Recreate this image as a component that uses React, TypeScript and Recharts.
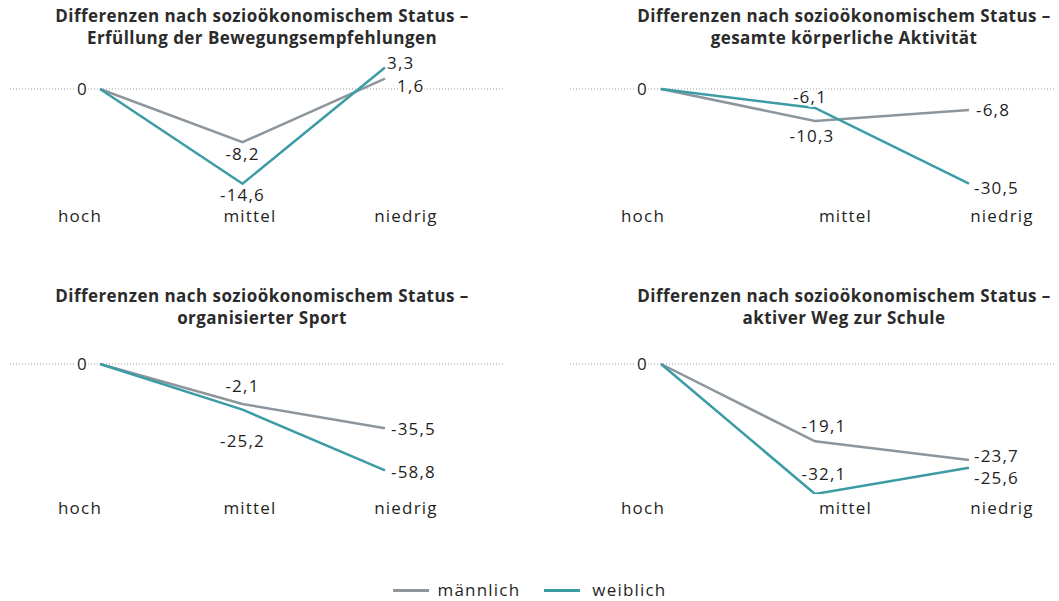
import { LineChart, Line, XAxis, YAxis, ReferenceLine, LabelList } from "recharts";

const categories = ["hoch", "mittel", "niedrig"];

const bewegungMaennlich = [0, -8.2, 1.6];
const bewegungWeiblich = [0, -14.6, 3.3];
const bewegungMaennlichLabels = ["0", "-8,2", "1,6"];
const bewegungWeiblichLabels = ["", "-14,6", "3,3"];

const aktivitaetMaennlich = [0, -10.3, -6.8];
const aktivitaetWeiblich = [0, -6.1, -30.5];
const aktivitaetMaennlichLabels = ["0", "-10,3", "-6,8"];
const aktivitaetWeiblichLabels = ["", "-6,1", "-30,5"];

// the line for "mittel" sits near -22, the printed label reads -2,1
const sportMaennlich = [0, -22.1, -35.5];
const sportWeiblich = [0, -25.2, -58.8];
const sportMaennlichLabels = ["0", "-2,1", "-35,5"];
const sportWeiblichLabels = ["", "-25,2", "-58,8"];

const schulwegMaennlich = [0, -19.1, -23.7];
const schulwegWeiblich = [0, -32.1, -25.6];
const schulwegMaennlichLabels = ["0", "-19,1", "-23,7"];
const schulwegWeiblichLabels = ["", "-32,1", "-25,6"];

const GREY = "#8d969d";
const TEAL = "#3c9ca6";
const TEXT = "#1f1f1f";
const FONT = "'Open Sans', sans-serif";

type Place = [number, number, "start" | "middle" | "end"];

type PanelProps = {
  title: string[];
  left: number;
  top: number;
  width: number;
  height: number;
  margin: { top: number; right: number; bottom: number; left: number };
  ptsPad: { left: number; right: number };
  lblPad: { left: number; right: number };
  tickShift: number[];
  tickDy: number;
  domain: [number, number];
  male: number[];
  female: number[];
  maleLabels: string[];
  femaleLabels: string[];
  malePlace: Place[];
  femalePlace: Place[];
  titleX: number;
  titleTop: number;
};

function labelRenderer(texts: string[], place: Place[]) {
  return (p: any) => {
    const i = p.index;
    const t = texts[i];
    if (!t) return null;
    const [dx, dy, anchor] = place[i];
    return (
      <text
        key={i}
        x={Number(p.x) + dx}
        y={Number(p.y) + dy + 6}
        textAnchor={anchor}
        fontSize={17}
        fontFamily={FONT}
        letterSpacing={1.2}
        fill={TEXT}
        stroke="#fff"
        strokeWidth={4}
        paintOrder="stroke"
      >
        {t}
      </text>
    );
  };
}

function tickRenderer(shift: number[], dy: number) {
  return (p: any) => (
    <text
      x={Number(p.x) + (shift[p.index] ?? 0)}
      y={Number(p.y) + dy}
      dy="0.71em"
      textAnchor="middle"
      fontSize={17}
      fontFamily={FONT}
      letterSpacing={1.2}
      fill={TEXT}
    >
      {p.payload.value}
    </text>
  );
}

function Panel(props: PanelProps) {
  const data = categories.map((c, i) => ({ cat: c, m: props.male[i], w: props.female[i] }));
  return (
    <>
      <div
        style={{
          position: "absolute",
          left: props.titleX - 300,
          top: props.titleTop,
          width: 600,
          textAlign: "center",
          fontFamily: FONT,
          fontWeight: 700,
          fontSize: 17,
          letterSpacing: 0.45,
          lineHeight: "22px",
          color: "#2b2b2b",
        }}
      >
        {props.title.map((l) => (
          <div key={l}>{l}</div>
        ))}
      </div>
      <div style={{ position: "absolute", left: props.left, top: props.top }}>
        <LineChart width={props.width} height={props.height} data={data} margin={props.margin}>
          <XAxis xAxisId="pts" dataKey="cat" hide padding={props.ptsPad} />
          <XAxis
            xAxisId="lbl"
            dataKey="cat"
            height={30}
            padding={props.lblPad}
            axisLine={false}
            tickLine={false}
            tick={tickRenderer(props.tickShift, props.tickDy)}
          />
          <YAxis hide domain={props.domain} allowDataOverflow type="number" />
          <ReferenceLine xAxisId="pts" y={0} stroke="#9c9c9c" strokeDasharray="1 2" strokeWidth={1} />
          <Line
            xAxisId="pts"
            dataKey="m"
            stroke={GREY}
            strokeWidth={2.5}
            dot={false}
            type="linear"
            isAnimationActive={false}
          >
            <LabelList dataKey="m" content={labelRenderer(props.maleLabels, props.malePlace)} />
          </Line>
          <Line
            xAxisId="pts"
            dataKey="w"
            stroke={TEAL}
            strokeWidth={2.5}
            dot={false}
            type="linear"
            isAnimationActive={false}
          >
            <LabelList dataKey="w" content={labelRenderer(props.femaleLabels, props.femalePlace)} />
          </Line>
        </LineChart>
      </div>
    </>
  );
}

const TITLE_HEAD = "Differenzen nach sozioökonomischem Status –";

export default function App() {
  const leftBase = {
    left: 0,
    width: 520,
    ptsPad: { left: 90, right: 118 },
    lblPad: { left: 70, right: 97 },
    tickShift: [0, 7, 0],
    titleX: 262,
  };
  const rightBase = {
    left: 540,
    width: 519,
    ptsPad: { left: 91, right: 87 },
    lblPad: { left: 73, right: 54 },
    tickShift: [0, 23, 0],
    titleX: 844,
  };
  const topBase = {
    top: 0,
    height: 240,
    margin: { top: 60, right: 17, bottom: 10, left: 10 },
    titleTop: 5,
    tickDy: 2,
  };
  const botBase = {
    top: 280,
    height: 250,
    margin: { top: 55, right: 17, bottom: 6, left: 10 },
    titleTop: 285,
    tickDy: 0,
  };
  const rightMargin = (m: { top: number; bottom: number }) => ({ ...m, left: 30, right: 3 });

  return (
    <div style={{ position: "absolute", left: 0, top: 0, width: 1059, height: 601, background: "#fff" }}>
      <Panel
        {...leftBase}
        {...topBase}
        title={[TITLE_HEAD, "Erfüllung der Bewegungsempfehlungen"]}
        domain={[-17.1, 4.46]}
        male={bewegungMaennlich}
        female={bewegungWeiblich}
        maleLabels={bewegungMaennlichLabels}
        femaleLabels={bewegungWeiblichLabels}
        malePlace={[[-12, 0, "end"], [0, 12, "middle"], [12, 7, "start"]]}
        femalePlace={[[0, 0, "end"], [0, 11, "middle"], [2, -5, "start"]]}
      />
      <Panel
        {...rightBase}
        {...topBase}
        margin={rightMargin(topBase.margin)}
        title={[TITLE_HEAD, "gesamte körperliche Aktivität"]}
        domain={[-35.8, 9.35]}
        male={aktivitaetMaennlich}
        female={aktivitaetWeiblich}
        maleLabels={aktivitaetMaennlichLabels}
        femaleLabels={aktivitaetWeiblichLabels}
        malePlace={[[-13, 0, "end"], [-3, 15, "middle"], [7, 0, "start"]]}
        femalePlace={[[0, 0, "end"], [-5, -11, "middle"], [5, 4, "start"]]}
      />
      <Panel
        {...leftBase}
        {...botBase}
        title={[TITLE_HEAD, "organisierter Sport"]}
        domain={[-71.8, 16]}
        male={sportMaennlich}
        female={sportWeiblich}
        maleLabels={sportMaennlichLabels}
        femaleLabels={sportWeiblichLabels}
        malePlace={[[-12, 0, "end"], [0, -18, "middle"], [6, 1, "start"]]}
        femalePlace={[[0, 0, "end"], [0, 31, "middle"], [6, 2, "start"]]}
      />
      <Panel
        {...rightBase}
        {...botBase}
        margin={rightMargin(botBase.margin)}
        title={[TITLE_HEAD, "aktiver Weg zur Schule"]}
        domain={[-32.1, 7.16]}
        male={schulwegMaennlich}
        female={schulwegWeiblich}
        maleLabels={schulwegMaennlichLabels}
        femaleLabels={schulwegWeiblichLabels}
        malePlace={[[-13, 0, "end"], [9, -15, "middle"], [5, -4, "start"]]}
        femalePlace={[[0, 0, "end"], [9, -20, "middle"], [5, 10, "start"]]}
      />
      <div
        style={{
          position: "absolute",
          left: 0,
          top: 578,
          width: 1059,
          display: "flex",
          justifyContent: "center",
          alignItems: "center",
          fontFamily: FONT,
          fontSize: 17,
          letterSpacing: 1.2,
          color: TEXT,
          lineHeight: "24px",
        }}
      >
        <span style={{ display: "inline-block", width: 36, height: 3, background: GREY, marginRight: 9 }} />
        <span style={{ marginRight: 24 }}>männlich</span>
        <span style={{ display: "inline-block", width: 36, height: 3, background: TEAL, marginRight: 12 }} />
        <span>weiblich</span>
      </div>
    </div>
  );
}
